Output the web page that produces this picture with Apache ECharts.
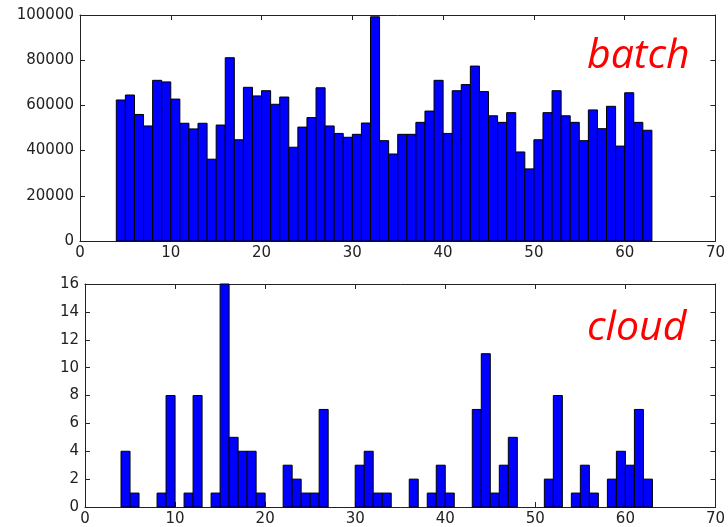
<!DOCTYPE html>
<html><head><meta charset="utf-8">
<script src="https://cdn.jsdelivr.net/npm/echarts@6/dist/echarts.min.js"></script>
<style>html,body{margin:0;padding:0;background:#fff}#c{width:728px;height:527px}</style>
</head><body><div id="c"></div>
<script>
var binStart = [4,5,6,7,8,9,10,11,12,13,14,15,16,17,18,19,20,21,22,23,24,25,26,27,28,29,30,31,32,33,34,35,36,37,38,39,40,41,42,43,44,45,46,47,48,49,50,51,52,53,54,55,56,57,58,59,60,61,62];
var batchValues = [62400,64600,56000,50900,71100,70400,62800,52100,49600,52100,36200,51300,81100,44800,68000,64200,66500,60500,63700,41500,50400,54600,67800,50900,47600,45900,47200,52200,99200,44400,38500,47200,47200,52500,57500,71100,47600,66500,69200,77400,66100,55400,52500,56800,39400,31900,44800,56800,66500,55400,52500,44400,58000,49700,59600,42000,65600,52500,49000];
var cloudValues = [4,1,0,0,1,8,0,1,8,0,1,16,5,4,4,1,0,0,3,2,1,1,7,0,0,0,3,4,1,1,0,0,2,0,1,3,1,0,0,7,11,1,3,5,0,0,0,2,8,0,1,3,1,0,2,4,3,7,2];
var titles = ['batch','cloud'];

var chart = echarts.init(document.getElementById('c'));
var FONT = 'DejaVu Sans';
function renderBar(params, api){
  var x = api.value(0), y = api.value(1);
  if (y <= 0) return null;
  var p0 = api.coord([x, y]);
  var p1 = api.coord([x + 1, 0]);
  return {type:'rect', shape:{x:p0[0], y:p0[1], width:p1[0]-p0[0], height:p1[1]-p0[1]},
    style:{fill:'#0000ff', stroke:'#000', lineWidth:1}};
}
function fmt(v){ return String(v); }
function xAx(gi, pos, show){
  return {type:'value', gridIndex:gi, position:pos, min:0, max:70, interval:10,
    axisLine:{show:true, onZero:false, lineStyle:{color:'#222', width:1}},
    axisTick:{show:true, inside:true, length:5, lineStyle:{color:'#222'}},
    axisLabel:{show:show, color:'#222', fontFamily:FONT, fontSize:15, margin:5, formatter:fmt},
    splitLine:{show:false}};
}
function yAx(gi, pos, show, max, interval){
  return {type:'value', gridIndex:gi, position:pos, min:0, max:max, interval:interval,
    axisLine:{show:true, onZero:false, lineStyle:{color:'#222', width:1}},
    axisTick:{show:true, inside:true, length:5, lineStyle:{color:'#222'}},
    axisLabel:{show:show, color:'#222', fontFamily:FONT, fontSize:15, margin:6, formatter:fmt},
    splitLine:{show:false}};
}
var batchData = binStart.map(function(x,i){return [x, batchValues[i]];});
var cloudData = binStart.map(function(x,i){return [x, cloudValues[i]];});
chart.setOption({
  animation:false,
  grid:[{left:80, top:15, width:642, height:226},{left:85, top:284, width:636, height:224}],
  xAxis:[xAx(0,'bottom',true), xAx(0,'top',false), xAx(1,'bottom',true), xAx(1,'top',false)],
  yAxis:[yAx(0,'left',true,100000,20000), yAx(0,'right',false,100000,20000), yAx(1,'left',true,16,2), yAx(1,'right',false,16,2)],
  series:[
    {type:'custom', xAxisIndex:0, yAxisIndex:0, renderItem:renderBar, data:batchData, encode:{x:0,y:1}},
    {type:'custom', xAxisIndex:2, yAxisIndex:2, renderItem:renderBar, data:cloudData, encode:{x:0,y:1}}
  ],
  graphic:[
    {type:'text', left:587, top:36, style:{text:titles[0], fill:'#ff0000', fontFamily:'Open Sans', fontStyle:'italic', fontSize:41}},
    {type:'text', left:587, top:308, style:{text:titles[1], fill:'#ff0000', fontFamily:'Open Sans', fontStyle:'italic', fontSize:41}}
  ]
});
</script></body></html>
